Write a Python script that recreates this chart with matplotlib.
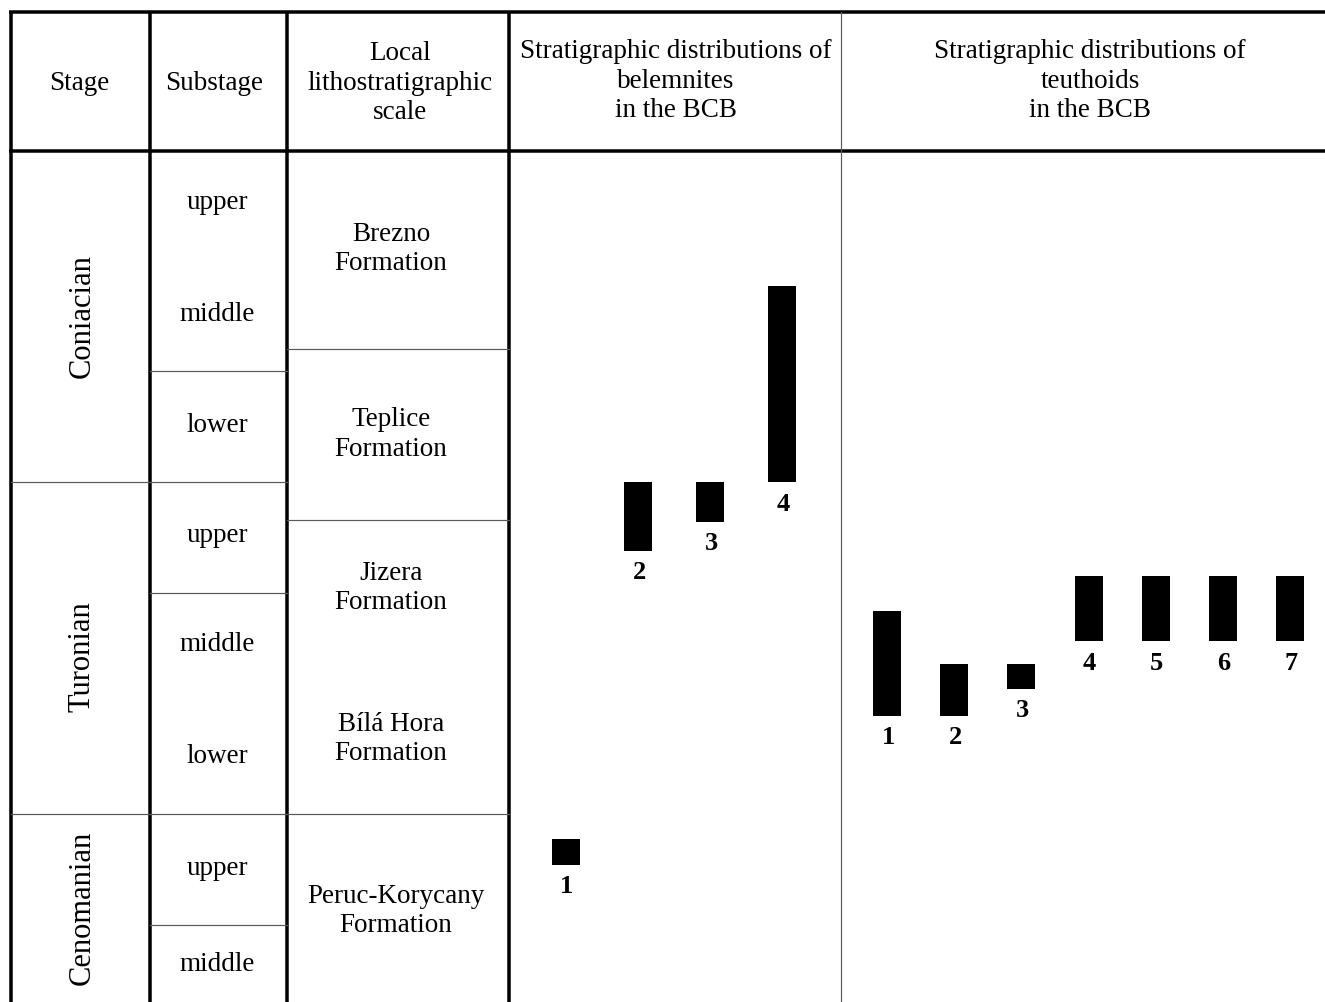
import matplotlib
matplotlib.use("Agg")
import matplotlib.pyplot as plt

# ---------------- data ----------------
# vertical scale: substage units measured downward from top of upper Coniacian
stages = ["Coniacian", "Turonian", "Cenomanian"]
stage_label_pos = [1.5, 4.58, 6.85]
stage_bounds = [3.0, 6.0]

substages = ["upper", "middle", "lower", "upper", "middle", "lower", "upper", "middle"]
substage_label_pos = [0.47, 1.49, 2.49, 3.48, 4.47, 5.48, 6.49, 7.36]
substage_bounds = [2.0, 3.0, 4.0, 6.0, 7.0]

formations = ["Brezno\nFormation", "Teplice\nFormation", "Jizera\nFormation",
              "Bílá Hora\nFormation", "Peruc-Korycany\nFormation"]
formation_label_pos = [0.895, 2.57, 3.96, 5.32, 6.88]
formation_bounds = [1.80, 3.34, 6.0]

belemnite_ids = ["1", "2", "3", "4"]
belemnite_top = [6.23, 3.00, 3.00, 1.23]
belemnite_base = [6.46, 3.62, 3.36, 3.00]

teuthoid_ids = ["1", "2", "3", "4", "5", "6", "7"]
teuthoid_top = [4.17, 4.64, 4.64, 3.85, 3.85, 3.85, 3.85]
teuthoid_base = [5.11, 5.11, 4.87, 4.44, 4.44, 4.44, 4.44]

headers = ["Stage", "Substage", "Local\nlithostratigraphic\nscale",
           "Stratigraphic distributions of\nbelemnites\nin the BCB",
           "Stratigraphic distributions of\nteuthoids\nin the BCB"]

# ---------------- layout ----------------
W, H = 1325, 1002
PX_TOP = 150.0      # pixel row of unit 0
PX_UNIT = 110.67    # pixels per substage unit


def U(px):
    return (px - PX_TOP) / PX_UNIT


FONT = "Liberation Serif"
plt.rcParams["font.family"] = [FONT, "DejaVu Serif"]

fig = plt.figure(figsize=(W / 100, H / 100), dpi=100)
ax = fig.add_axes([0, 0, 1, 1])
ax.set_xlim(0, W)
ax.set_ylim(U(H), U(0))
ax.axis("off")

thick = 3.5 * 0.72
thin = 1.2 * 0.72
gray = "#5a5a5a"

col_x = [10.5, 149.5, 287, 508.5]
y_top, y_head = U(12.5), U(150.5)
y_bot = U(H + 5)

# thick frame lines
ax.plot([9, W], [y_top, y_top], color="black", lw=thick, solid_capstyle="butt")
ax.plot([9, W], [y_head, y_head], color="black", lw=thick, solid_capstyle="butt")
for x in col_x:
    ax.plot([x, x], [U(11), y_bot], color="black", lw=thick, solid_capstyle="butt")
ax.plot([841, 841], [y_top, y_bot], color=gray, lw=thin)

# thin row lines
for b in stage_bounds:
    ax.plot([col_x[0], col_x[1]], [b, b], color=gray, lw=thin)
for b in substage_bounds:
    ax.plot([col_x[1], col_x[2]], [b, b], color=gray, lw=thin)
for b in formation_bounds:
    ax.plot([col_x[2], col_x[3]], [b, b], color=gray, lw=thin)

# headers
fs = 19.5
ls = 1.22
head_x = [79, 214, 400, 676, 1090]
head_y = [U(83), U(83), U(83), U(81), U(81)]
for t, x, y in zip(headers, head_x, head_y):
    ax.text(x, y, t, ha="center", va="center", multialignment="center",
            fontsize=fs, linespacing=ls)

# stage labels
for s, y in zip(stages, stage_label_pos):
    ax.text(82, y, s, rotation=90, ha="center", va="center", fontsize=22)

# substage labels
for s, y in zip(substages, substage_label_pos):
    ax.text(217, y, s, ha="center", va="center", fontsize=fs)

# formation labels
for s, y in zip(formations, formation_label_pos):
    ax.text(396 if "Peruc" in s else 391, y, s, ha="center", va="center",
            multialignment="center", fontsize=fs, linespacing=ls)

# bars
bw = 28
bel_x = [566 + 72 * i for i in range(len(belemnite_ids))]
teu_x = [887 + 67.2 * i for i in range(len(teuthoid_ids))]

for xs, ids, tops, bases in [(bel_x, belemnite_ids, belemnite_top, belemnite_base),
                             (teu_x, teuthoid_ids, teuthoid_top, teuthoid_base)]:
    heights = [b - t for t, b in zip(tops, bases)]
    ax.bar(xs, heights, bottom=tops, width=bw, color="black", edgecolor="none")
    for x, lab, b in zip(xs, ids, bases):
        ax.annotate(lab, (x, b), xytext=(1, -22), textcoords="offset pixels",
                    ha="center", va="center", fontsize=19, fontweight="bold")

fig.savefig("out.png", dpi=100)
